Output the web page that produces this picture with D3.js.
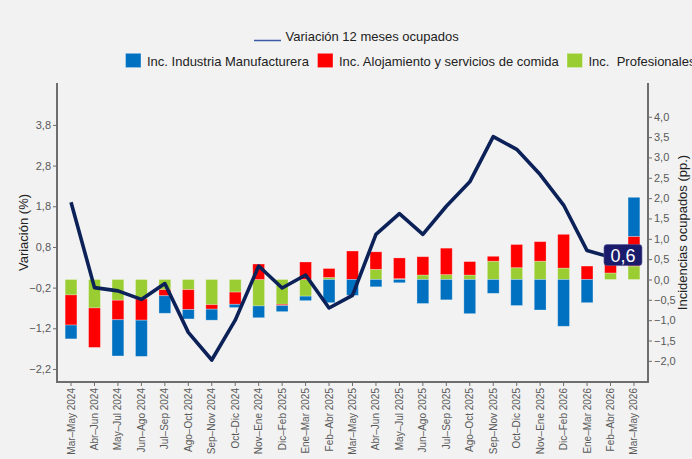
<!DOCTYPE html>
<html>
<head>
<meta charset="utf-8">
<script src="https://cdn.jsdelivr.net/npm/d3@7"></script>
<style>
  body { margin: 0; background: #f2f2f2; }
  svg { display: block; font-family: "Liberation Sans", Arial, sans-serif; }
</style>
</head>
<body>
<div id="canvas"></div>
<script>
// Categories (trimestres móviles)
const categories = [
  "Mar–May 2024", "Abr–Jun 2024", "May–Jul 2024", "Jun–Ago 2024", "Jul–Sep 2024",
  "Ago–Oct 2024", "Sep–Nov 2024", "Oct–Dic 2024", "Nov–Ene 2024", "Dic–Feb 2025",
  "Ene–Mar 2025", "Feb–Abr 2025", "Mar–May 2025", "Abr–Jun 2025", "May–Jul 2025",
  "Jun–Ago 2025", "Jul–Sep 2025", "Ago–Oct 2025", "Sep–Nov 2025", "Oct–Dic 2025",
  "Nov–Ene 2025", "Dic–Feb 2026", "Ene–Mar 2026", "Feb–Abr 2026", "Mar–May 2026"
];

// Variación 12 meses ocupados (%)
const variacion = [1.9, -0.2, -0.28, -0.49, -0.1, -1.3, -1.98, -1.0, 0.33, -0.21,
  0.11, -0.7, -0.39, 1.11, 1.62, 1.11, 1.8, 2.4, 3.51, 3.2,
  2.58, 1.83, 0.71, 0.55, 0.6];

// Incidencias (pp.)
const manufactura = [-0.34, 0, -0.89, -0.89, -0.43, -0.23, -0.27, -0.08, -0.29, -0.15,
  -0.11, -0.57, -0.39, -0.18, -0.08, -0.59, -0.5, -0.84, -0.34, -0.64,
  -0.75, -1.15, -0.57, 0, 0.96];
const alojamiento = [-0.74, -0.97, -0.48, -0.52, -0.15, -0.49, -0.11, -0.3, 0.38, -0.03,
  0.43, 0.22, 0.7, 0.43, 0.51, 0.45, 0.65, 0.33, 0.12, 0.57,
  0.48, 0.83, 0.33, 0.25, 0.73];
const profesionales = [-0.38, -0.7, -0.51, -0.48, -0.25, -0.25, -0.62, -0.31, -0.65, -0.61,
  -0.41, 0.05, 0, 0.25, 0.02, 0.11, 0.12, 0.11, 0.45, 0.29,
  0.45, 0.28, 0, 0.16, 0.33];

const leftTicks = [-2.2, -1.2, -0.2, 0.8, 1.8, 2.8, 3.8];
const rightTicks = [-2.0, -1.5, -1.0, -0.5, 0.0, 0.5, 1.0, 1.5, 2.0, 2.5, 3.0, 3.5, 4.0];

const lastLabel = "0,6";

// Dimensions
const width = 692;
const height = 459;
const plotLeft = 57, plotRight = 648, plotTop = 83, plotBottom = 382;

const svg = d3.select('#canvas')
  .append('svg')
  .attr('width', width)
  .attr('height', height);

svg.append('rect')
  .attr('width', width)
  .attr('height', height)
  .attr('fill', '#f2f2f2');

const locale = d3.formatLocale({ decimal: ",", thousands: ".", grouping: [3], currency: ["", ""] });
const fmt1 = locale.format(".1f");

// Scales - both axes share the same zero and unit size
const x = d3.scaleBand()
  .domain(categories)
  .range([plotLeft + 2.3, plotRight - 2.3])
  .paddingInner(0.5)
  .paddingOuter(0.25);

const y = d3.scaleLinear()
  .domain([-2.52, 4.83])
  .range([plotBottom, plotTop]);

const colors = { prof: '#9acd32', aloj: '#ff0000', manu: '#0070c0' };

// Stacked bars (diverging)
const rows = categories.map((c, i) => ({
  cat: c, prof: profesionales[i], aloj: alojamiento[i], manu: manufactura[i]
}));
const stack = d3.stack()
  .keys(['prof', 'aloj', 'manu'])
  .offset(d3.stackOffsetDiverging);
const series = stack(rows);

const barW = 11.8;
svg.append('g')
  .selectAll('g')
  .data(series)
  .join('g')
  .attr('fill', d => colors[d.key])
  .selectAll('rect')
  .data(d => d)
  .join('rect')
  .attr('x', d => x(d.data.cat) + x.bandwidth() / 2 - barW / 2)
  .attr('width', barW)
  .attr('y', d => y(Math.max(d[0], d[1])))
  .attr('height', d => Math.abs(y(d[0]) - y(d[1])))
  .attr('stroke', 'rgba(255,255,255,0.35)')
  .attr('stroke-width', 0.8);

// Line
const line = d3.line()
  .x((d, i) => x(categories[i]) + x.bandwidth() / 2)
  .y(d => y(d));

svg.append('path')
  .datum(variacion)
  .attr('d', line)
  .attr('fill', 'none')
  .attr('stroke', '#0b2158')
  .attr('stroke-width', 3.6)
  .attr('stroke-linejoin', 'round');

// Label on last point
const lastX = x(categories[categories.length - 1]) + x.bandwidth() / 2 - 11;
const lastY = y(variacion[variacion.length - 1]);
const lab = svg.append('g').attr('transform', `translate(${lastX},${lastY})`);
lab.append('rect')
  .attr('x', -19).attr('y', -10.5)
  .attr('width', 38).attr('height', 21)
  .attr('rx', 3)
  .attr('fill', '#1b1b6b')
  .attr('stroke', '#5a5a9a')
  .attr('stroke-width', 0.6);
lab.append('text')
  .attr('text-anchor', 'middle')
  .attr('y', 6.5)
  .style('font-size', '18px')
  .style('fill', 'white')
  .text(lastLabel);

// Axes
const axisColor = '#6e6e6e';
const tickColor = '#595959';

const leftAxis = svg.append('g')
  .attr('transform', `translate(${plotLeft},0)`)
  .call(d3.axisLeft(y).tickValues(leftTicks).tickFormat(fmt1).tickSize(4).tickSizeOuter(0).tickPadding(2));

const rightAxis = svg.append('g')
  .attr('transform', `translate(${plotRight},0)`)
  .call(d3.axisRight(y).tickValues(rightTicks).tickFormat(fmt1).tickSize(4).tickSizeOuter(0).tickPadding(2));

const bottomAxis = svg.append('g')
  .attr('transform', `translate(0,${plotBottom})`)
  .call(d3.axisBottom(x).tickSize(4).tickSizeOuter(0));

[leftAxis, rightAxis, bottomAxis].forEach(a => {
  a.select('.domain').remove();
  a.selectAll('.tick line').attr('stroke', axisColor);
  a.selectAll('text')
    .style('font-family', '"Liberation Sans", Arial, sans-serif')
    .style('font-size', '11px')
    .style('fill', tickColor);
});

bottomAxis.selectAll('text')
  .attr('transform', 'rotate(-90)')
  .attr('x', -6)
  .attr('y', 0)
  .attr('dy', '0.35em')
  .style('text-anchor', 'end')
  .style('font-size', '10px');

// frame lines (left, right, bottom)
const frame = svg.append('g').attr('stroke', axisColor).attr('stroke-width', 2);
frame.append('line').attr('x1', plotLeft).attr('x2', plotLeft).attr('y1', plotTop).attr('y2', plotBottom);
frame.append('line').attr('x1', plotRight).attr('x2', plotRight).attr('y1', plotTop).attr('y2', plotBottom);
frame.append('line').attr('x1', plotLeft - 1).attr('x2', plotRight + 1).attr('y1', plotBottom).attr('y2', plotBottom);

// Axis titles
svg.append('text')
  .attr('transform', `translate(28,${(plotTop + plotBottom) / 2}) rotate(-90)`)
  .attr('text-anchor', 'middle')
  .style('font-size', '13px')
  .style('fill', '#222')
  .text('Variación (%)');

svg.append('text')
  .attr('transform', `translate(687,${(plotTop + plotBottom) / 2}) rotate(-90)`)
  .attr('text-anchor', 'middle')
  .style('font-size', '13px')
  .style('fill', '#222')
  .text('Incidencias ocupados (pp.)');

// Legend
const legend = svg.append('g').style('font-size', '13px').style('fill', '#222');
legend.append('line')
  .attr('x1', 254).attr('x2', 281).attr('y1', 40.5).attr('y2', 40.5)
  .attr('stroke', '#3b5ba5').attr('stroke-width', 1.5);
legend.append('text').attr('x', 285.5).attr('y', 40.5).text('Variación 12 meses ocupados');

const legendItems = [
  { key: 'manu', label: 'Inc. Industria Manufacturera', x: 125.5 },
  { key: 'aloj', label: 'Inc. Alojamiento y servicios de comida', x: 317.5 },
  { key: 'prof', label: 'Inc.\u00a0 Profesionales', x: 567 }
];
legendItems.forEach(it => {
  legend.append('rect')
    .attr('x', it.x).attr('y', 53.3)
    .attr('width', 15.5).attr('height', 14.3)
    .attr('fill', colors[it.key])
    .attr('stroke', 'rgba(255,255,255,0.35)');
  legend.append('text')
    .attr('x', it.x + 21.5).attr('y', 65.5)
    .text(it.label);
});
</script>
</body>
</html>
